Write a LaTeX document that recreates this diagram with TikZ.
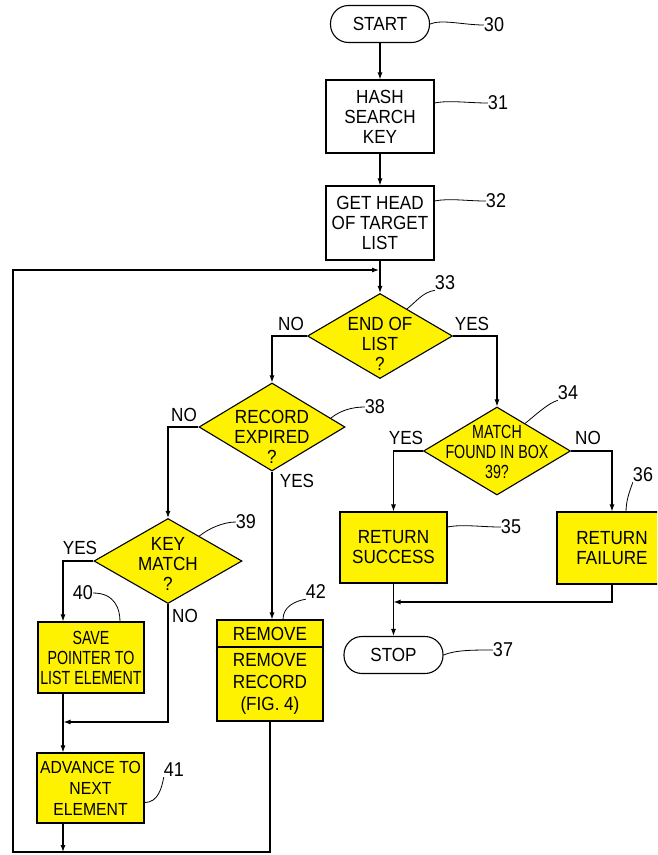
\documentclass[tikz,border=0pt]{standalone}
\usepackage{fontspec}
\setmainfont[FakeStretch=0.9]{Liberation Sans}
\newfontfamily\narrowfont[FakeStretch=0.75]{Liberation Sans}
\usetikzlibrary{shapes.geometric,arrows.meta,calc}

\begin{document}
\begin{tikzpicture}[
        x=1pt, y=-1pt,
        font=\fontsize{19}{20}\selectfont,
        box/.style={rectangle, draw=black, line width=1.1pt, align=center, inner sep=0pt},
        hilite/.style={box, fill=yellow},
        term/.style={box, rounded corners=18pt, minimum width=99pt, minimum height=37pt},
        decision/.style={diamond, draw=black, line width=1.1pt, fill=yellow, inner sep=0pt},
        dtext/.style={align=center, inner sep=0pt},
        arrow/.style={-{Latex[length=7pt,width=5pt]}, line width=1.1pt},
        tag/.style={inner sep=0pt},
        ref/.style={inner sep=0pt, font=\fontsize{20}{20}\selectfont},
        lead/.style={line width=0.8pt}
    ]

    \useasboundingbox (0,0) rectangle (657,855);
    \clip (0,0) rectangle (657,855);

    % Main column
    \node[term] (start) at (380,24) {START};
    \node[box, minimum width=108pt, minimum height=73pt] (hash) at (380,116.5) {HASH\\SEARCH\\KEY};
    \node[box, minimum width=108pt, minimum height=74pt] (head) at (380,223) {GET HEAD\\OF TARGET\\LIST};

    % Decisions
    \node[decision, minimum width=145pt, minimum height=85pt] (d33) at (380,336) {};
    \node[dtext] (t33) at (380,344) {END OF\\LIST\\?};
    \node[decision, minimum width=146pt, minimum height=88pt] (d38) at (272,427) {};
    \node[dtext] (t38) at (272,437) {RECORD\\EXPIRED\\?};
    \node[decision, minimum width=148pt, minimum height=85pt] (d39) at (168,561) {};
    \node[dtext] (t39) at (168,564) {KEY\\MATCH\\?};
    \node[decision, minimum width=147pt, minimum height=88pt] (d34) at (497,451) {};
    \node[dtext, font=\narrowfont\fontsize{19}{20}\selectfont] (t34) at (497,452) {MATCH\\FOUND IN BOX\\39?};

    % Action boxes
    \node[hilite, minimum width=107pt, minimum height=71pt] (success) at (393.5,547.5) {RETURN\\SUCCESS};
    \node[hilite, minimum width=110pt, minimum height=72pt] (failure) at (612,548) {RETURN\\FAILURE};
    \node[term] (stop) at (393.5,655) {STOP};
    \node[hilite, minimum width=106pt, minimum height=71pt, font=\narrowfont\fontsize{19}{20}\selectfont] (save) at (91,657.5) {SAVE\\POINTER TO\\LIST ELEMENT};
    \node[hilite, minimum width=107pt, minimum height=70pt, font=\fontsize{17.5}{21}\selectfont] (advance) at (90.5,788) {ADVANCE TO\\NEXT\\ELEMENT};
    \node[hilite, minimum width=106pt, minimum height=27pt] (rmhead) at (270,633.5) {REMOVE};
    \node[hilite, minimum width=106pt, minimum height=74pt, font=\fontsize{19}{22}\selectfont] (rmbody) at (270,684) {REMOVE\\RECORD\\(FIG. 4)};

    % Corner points
    \coordinate (loopin) at (379,270);
    \coordinate (loopbl) at (13,852);
    \coordinate (yesx) at (63,561);
    \coordinate (merge) at (63.5,722);
    \coordinate (join) at (393.5,602);

    % Flow
    \draw[arrow] (start.south) -- (hash.north);
    \draw[arrow] (hash.south) -- (head.north);
    \draw[arrow] (head.south) -- (d33.north);
    \draw[arrow] (d33.west) -| (d38.north);
    \draw[arrow] (d33.east) -| (d34.north);
    \draw[arrow] (d38.west) -| (d39.north);
    \draw[arrow] (d38.south) -- (d38.south |- rmhead.north);
    \draw[arrow] (d39.west) -- (yesx) -- (yesx |- save.north);
    \draw[arrow] (d39.south) |- (merge);
    \draw[arrow] (save.south -| yesx) -- (advance.north -| yesx);
    \draw[arrow] (advance.south -| yesx) -- (yesx |- loopbl);
    \draw[arrow] (rmbody.south) |- (loopbl) |- (loopin);
    \draw[arrow] (d34.west) -| (success.north);
    \draw[arrow] (d34.east) -| (failure.north);
    \draw[arrow] (success.south) -- (stop.north);
    \draw[arrow] (failure.south) |- (join);

    % Branch labels
    \node[tag] (no33) at (291,324) {NO};
    \node[tag] (yes33) at (472,324) {YES};
    \node[tag] (no38) at (184,415) {NO};
    \node[tag] (yes38) at (297,481) {YES};
    \node[tag] (yes39) at (80,548) {YES};
    \node[tag] (no39) at (185,616) {NO};
    \node[tag] (yes34) at (406,438) {YES};
    \node[tag] (no34) at (588,438) {NO};

    % Reference numerals
    \node[ref] (n30) at (494,25) {30};
    \node[ref] (n31) at (498,103) {31};
    \node[ref] (n32) at (496,201) {32};
    \node[ref] (n33) at (445,283) {33};
    \node[ref] (n34) at (568,393) {34};
    \node[ref] (n35) at (511,527) {35};
    \node[ref] (n36) at (643,475) {36};
    \node[ref] (n37) at (503,650) {37};
    \node[ref] (n38) at (375,407) {38};
    \node[ref] (n39) at (246,522) {39};
    \node[ref] (n40) at (83,593) {40};
    \node[ref] (n41) at (174,770) {41};
    \node[ref] (n42) at (316,592) {42};

    \draw[lead] (start.east) .. controls +(12,-5) and +(-20,0) .. (n30.west);
    \draw[lead] (hash.east |- n31.west) .. controls +(15,-3) and +(-20,0) .. (n31.west);
    \draw[lead] (head.east |- n32.west) .. controls +(15,-3) and +(-20,0) .. (n32.west);
    \draw[lead] ($(d33.north)!0.37!(d33.east)$) .. controls +(10,-8) and +(-12,2) .. (n33.south west);
    \draw[lead] ($(d34.north)!0.38!(d34.east)$) .. controls +(10,-8) and +(-10,3) .. (n34.south west);
    \draw[lead] (success.east |- n35.west) .. controls +(15,-3) and +(-20,0) .. (n35.west);
    \draw[lead] ($(failure.north)+(14,0)$) .. controls +(0,-12) and +(-2,6) .. (n36.south west);
    \draw[lead] (stop.east) .. controls +(12,-5) and +(-20,0) .. (n37.west);
    \draw[lead] ($(d38.north)!0.8!(d38.east)$) .. controls +(10,-8) and +(-12,0) .. (n38.west);
    \draw[lead] ($(d39.north)!0.42!(d39.east)$) .. controls +(10,-8) and +(-12,0) .. (n39.west);
    \draw[lead] (n40.east) .. controls +(22,0) and +(0,-12) .. ($(save.north)+(29,0)$);
    \draw[lead] ($(advance.south east)+(0,-21)$) .. controls +(14,0) and +(-2,10) .. (n41.south west);
    \draw[lead] ($(rmhead.north)+(13,0)$) .. controls +(0,-12) and +(-12,2) .. (n42.south west);

\end{tikzpicture}
\end{document}
